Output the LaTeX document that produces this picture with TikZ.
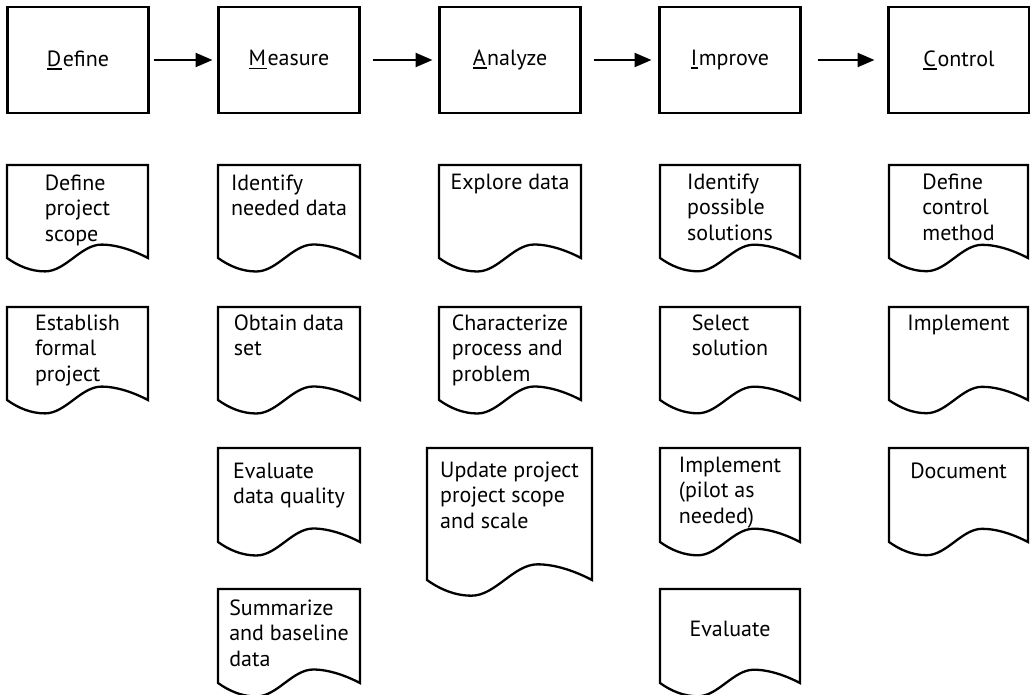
\documentclass[tikz,border=0pt]{standalone}
\usepackage{fontspec}
\setmainfont{PT Sans}
\usetikzlibrary{arrows.meta, positioning}

% first letter of a phase name, underlined
\newcommand{\firstul}[1]{{\setbox0\hbox{#1}\rlap{\rule[-3.5pt]{\dimexpr\wd0+1pt\relax}{1.8pt}}#1\kern1.5pt}}

% document sheet: [baseline gap] name, left, top, right, bottom, text
\newcommand{\docpage}[7][24]{%
  \pgfmathsetmacro{\dpw}{#5-#3}
  \pgfmathsetmacro{\dpa}{0.095*\dpw}
  \draw[pageline] (#3,#6) -- (#3,#4) -- (#5,#4) -- (#5,#6)
    .. controls ({#3+0.9*\dpw},{#6-0.55*\dpa}) and ({#3+0.78*\dpw},{#6-\dpa}) .. ({#3+0.67*\dpw},{#6-\dpa})
    .. controls ({#3+0.525*\dpw},{#6-\dpa}) and ({#3+0.415*\dpw},{#6+\dpa}) .. ({#3+0.27*\dpw},{#6+\dpa})
    .. controls ({#3+0.17*\dpw},{#6+\dpa}) and ({#3+0.08*\dpw},{#6+0.6*\dpa}) .. (#3,#6) -- cycle;
  \node[pagetext] (#2) at ({(#3+#5)/2},{#4+#1-17.85}) {\strut #7};
}

\begin{document}
\begin{tikzpicture}[
    x=1pt, y=-1pt,
    phase/.style={rectangle, draw, line width=2.3pt, outer sep=0pt,
                  minimum width=141pt, minimum height=106pt, font=\fontsize{22}{25.5}\selectfont},
    pageline/.style={line width=2.3pt, line join=miter},
    pagetext/.style={anchor=north, align=left, inner sep=0pt, font=\fontsize{22}{25.5}\selectfont},
    flow/.style={-{Triangle[length=17pt,width=14pt]}, line width=2.3pt},
]
    \useasboundingbox (0,0) rectangle (1030,695);

    % DMAIC phases
    \node[phase] (define) at (78,60) {\firstul{D}efine};
    \node[phase, right=70pt of define]  (measure) {\firstul{M}easure};
    \node[phase, right=80pt of measure] (analyze) {\firstul{A}nalyze};
    \node[phase, right=79pt of analyze] (improve) {\firstul{I}mprove};
    \node[phase, right=88pt of improve] (control) {\firstul{C}ontrol};

    \draw[flow, shorten <=5pt,  shorten >=6pt]  (define)  -- (measure);
    \draw[flow, shorten <=13pt, shorten >=7pt]  (measure) -- (analyze);
    \draw[flow, shorten <=13pt, shorten >=8pt]  (analyze) -- (improve);
    \draw[flow, shorten <=17pt, shorten >=14pt] (improve) -- (control);

    % Define
    \docpage[25]{scope}{7}{165}{148}{258}{Define\\project\\scope}
    \docpage[23]{formal}{7}{307}{148}{400}{Establish\\formal\\project}

    % Measure
    \docpage[25]{needed}{218}{165}{360}{258}{Identify\\needed data}
    \docpage[23]{obtain}{218}{307}{360}{400}{Obtain data\\set}
    \docpage[30]{quality}{218}{448}{360}{542}{Evaluate\\data quality}
    \docpage[26]{baseline}{218}{589}{360}{683}{Summarize\\and baseline\\data}

    % Analyze
    \docpage[24]{explore}{439}{165}{581}{258}{Explore data}
    \docpage[23]{characterize}{439}{307}{581}{400}{Characterize\\process and\\problem}
    \docpage[29]{update}{427}{448}{592}{580}{Update project\\project scope\\and scale}

    % Improve
    \docpage[24]{solutions}{660}{165}{800}{258}{Identify\\possible\\solutions}
    \docpage[23]{select}{660}{307}{800}{400}{Select\\solution}
    \docpage[24]{pilot}{660}{448}{800}{542}{Implement\\(pilot as\\needed)}
    \docpage[47]{evaluate}{660}{589}{800}{683}{Evaluate}

    % Control
    \docpage[24]{method}{889}{165}{1028}{258}{Define\\control\\method}
    \docpage[23]{implement}{889}{307}{1028}{400}{Implement}
    \docpage[30]{document}{889}{448}{1028}{542}{Document}
\end{tikzpicture}
\end{document}
